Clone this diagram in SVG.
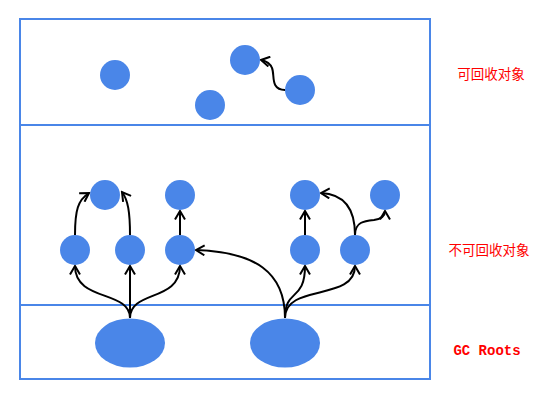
<svg xmlns="http://www.w3.org/2000/svg" width="557" height="400" viewBox="0 0 557 400">
<style>
.frame{fill:none;stroke:#4a86e8;stroke-width:2}
.obj{fill:#4a86e8}
.edge{fill:none;stroke:#000;stroke-width:2}
.lbl{fill:#ff0000;font-size:13.5px;text-anchor:middle;font-family:"Noto Sans CJK SC","Liberation Sans",sans-serif}
.gc{fill:#ff0000;font-size:14px;font-weight:bold;text-anchor:middle;font-family:"Liberation Mono",monospace}
</style>
<defs>
<marker id="arr" markerUnits="userSpaceOnUse" markerWidth="12" markerHeight="12" viewBox="0 0 12 12" refX="10" refY="6" orient="auto">
<path d="M1.5,1 L10,6 L1.5,11" fill="none" stroke="#000" stroke-width="2"/>
</marker>
</defs>
<g id="regions">
<rect class="frame" x="20" y="19" width="410" height="360"/>
<line class="frame" x1="20" y1="125" x2="430" y2="125"/>
<line class="frame" x1="20" y1="305" x2="430" y2="305"/>
</g>
<g id="connectors">
<path class="edge" marker-end="url(#arr)" d="M285,90 C270,90 275,75 272,68 C270,63 266,61 261,60"/>
<path class="edge" marker-end="url(#arr)" d="M130,318 C130,290 75,302 75,266"/>
<path class="edge" marker-end="url(#arr)" d="M130,318 L130,266"/>
<path class="edge" marker-end="url(#arr)" d="M130,318 C130,290 180,302 180,266"/>
<path class="edge" marker-end="url(#arr)" d="M75,235 C75,210 78,200 89,193"/>
<path class="edge" marker-end="url(#arr)" d="M130,235 C130,212 128,200 122,192"/>
<path class="edge" marker-end="url(#arr)" d="M180,235 L180,211"/>
<path class="edge" marker-end="url(#arr)" d="M285,318 C285,272 255,252 196,250"/>
<path class="edge" marker-end="url(#arr)" d="M285,318 C285,288 305,302 305,266"/>
<path class="edge" marker-end="url(#arr)" d="M285,318 C285,283 355,302 355,266"/>
<path class="edge" marker-end="url(#arr)" d="M305,235 L305,211"/>
<path class="edge" marker-end="url(#arr)" d="M355,235 C355,206 342,194 321,193"/>
<path class="edge" marker-end="url(#arr)" d="M355,235 C355,222 364,221 374,220 C381,219 385,216 385,211"/>
</g>
<g id="g1"><circle class="obj" cx="115" cy="75" r="15"/></g>
<g id="g2"><circle class="obj" cx="245" cy="60" r="15"/></g>
<g id="g3"><circle class="obj" cx="210" cy="105" r="15"/></g>
<g id="g4"><circle class="obj" cx="300" cy="90" r="15"/></g>
<g id="a1"><circle class="obj" cx="105" cy="195" r="15"/></g>
<g id="a2"><circle class="obj" cx="180" cy="195" r="15"/></g>
<g id="a3"><circle class="obj" cx="305" cy="195" r="15"/></g>
<g id="a4"><circle class="obj" cx="385" cy="195" r="15"/></g>
<g id="b1"><circle class="obj" cx="75" cy="250" r="15"/></g>
<g id="b2"><circle class="obj" cx="130" cy="250" r="15"/></g>
<g id="b3"><circle class="obj" cx="180" cy="250" r="15"/></g>
<g id="b4"><circle class="obj" cx="305" cy="250" r="15"/></g>
<g id="b5"><circle class="obj" cx="355" cy="250" r="15"/></g>
<g id="root1"><ellipse class="obj" cx="130" cy="343" rx="35" ry="24.5"/></g>
<g id="root2"><ellipse class="obj" cx="285" cy="343" rx="35" ry="24.5"/></g>
<g id="labels">
<text class="lbl" x="491" y="79">可回收对象</text>
<text class="lbl" x="489" y="255">不可回收对象</text>
<text class="gc" x="487" y="355">GC Roots</text>
</g>
</svg>
